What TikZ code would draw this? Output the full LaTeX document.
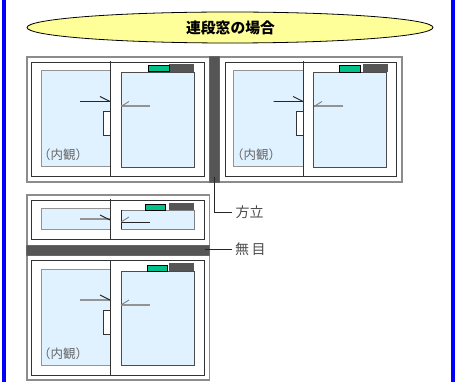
\documentclass[tikz,border=0pt]{standalone}
\usepackage{fontspec}
\usetikzlibrary{shapes.geometric}
\newfontfamily\cjk{Noto Sans CJK JP}
\definecolor{edgeblue}{HTML}{0000FF}
\definecolor{bannerfill}{HTML}{FFFF99}
\definecolor{glassfill}{HTML}{E0F2FF}
\definecolor{latchgreen}{HTML}{00C08C}
\definecolor{bardark}{HTML}{555555}
\begin{document}
\begin{tikzpicture}[x=1pt, y=-1pt]
		\tikzset{outerfr/.style={draw=gray!90, line width=1.2pt}};
		\tikzset{innerfr/.style={draw=black!80, line width=0.9pt}};
		\tikzset{glass/.style={draw=gray!85, fill=glassfill, line width=1pt}};
		\tikzset{glassdk/.style={draw=black!70, fill=glassfill, line width=0.9pt}};
		\tikzset{bar/.style={draw=gray!80!black, fill=bardark, line width=0.6pt}};
		\tikzset{latch/.style={draw=black, fill=latchgreen, line width=0.7pt}};
		\tikzset{grip/.style={draw=black!80, fill=white, line width=0.7pt}};
		\tikzset{stile/.style={draw=black!80, line width=0.9pt}};
		\tikzset{blackln/.style={draw=black!85, line width=0.9pt}};
		\tikzset{grayln/.style={draw=gray!85, line width=2pt}};
		\tikzset{lbl/.style={font=\cjk, text=black!70, inner sep=0pt}};
		\tikzset{inlbl/.style={lbl, font=\cjk\fontsize{12.5}{14}\selectfont, text=black!60}};
		\tikzset{partlbl/.style={lbl, font=\cjk\fontsize{14}{16}\selectfont}};

		\useasboundingbox (0, 0) rectangle (461, 382);
		\fill[white] (0, 0) rectangle (461, 382);
		\fill[edgeblue] (2, 0) rectangle (6, 382);
		\fill[edgeblue] (451, 0) rectangle (455, 382);

		% banner
		\node[ellipse, draw=black, fill=bannerfill, line width=0.8pt, minimum width=406pt, minimum height=31pt, inner sep=0pt] (banner) at (230, 27.5) {};
		\node[lbl, text=black, font=\cjk\bfseries\fontsize{14.8}{16}\selectfont] (title) at (230.5, 28) {連段窓の場合};

		% side by side
		\draw[outerfr] (27, 57) rectangle (402, 182);
		\draw[innerfr] (31.5, 62) rectangle (204, 176.5);
		\draw[innerfr] (225, 62) rectangle (396.5, 176.5);
		\draw[bar] (209, 56) rectangle (219, 182);

		\draw[glass] (41, 71) rectangle (110.5, 167);
		\draw[glassdk] (121, 72) rectangle (194, 167);
		\draw[bar, draw=none] (169, 64.5) rectangle (194, 72);
		\draw[latch] (148.5, 65) rectangle (169, 71.5);
		\draw[grip] (103, 111) rectangle (110.5, 135);
		\draw[stile] (110.5, 61) -- (110.5, 176.5);
		\draw[blackln] (80, 101.5) -- (110, 101.5) (100, 96.5) -- (110, 101.5);
		\draw[grayln] (150, 106.5) -- (121, 106.5);
		\draw[blackln, gray] (129, 101.5) -- (121, 106.5);
		\node[inlbl] (room1) at (63, 155) {（内観）};

		\draw[glass] (233.5, 71) rectangle (303.5, 167);
		\draw[glassdk] (313.5, 72) rectangle (386.5, 167);
		\draw[bar, draw=none] (363, 64) rectangle (388, 72);
		\draw[latch] (339, 65) rectangle (360, 72);
		\draw[grip] (296.5, 111) rectangle (303.5, 135);
		\draw[stile] (303.5, 61) -- (303.5, 176.5);
		\draw[blackln] (273.5, 101.5) -- (303, 101.5) (293, 96.5) -- (303, 101.5);
		\draw[grayln] (343, 106.5) -- (314, 106.5);
		\draw[blackln, gray] (322, 101.5) -- (314, 106.5);
		\node[inlbl] (room2) at (256, 155) {（内観）};

		% stacked
		\draw[outerfr] (27, 195) rectangle (209.5, 380);
		\draw[innerfr] (31.5, 200.5) rectangle (204, 239.5);
		\draw[innerfr] (31.5, 260) rectangle (204, 375.5);
		\draw[bar] (26, 245) rectangle (209, 255);

		\draw[glass] (41, 209) rectangle (110.5, 230);
		\draw[glassdk, draw=gray] (121, 210.5) rectangle (194, 229);
		\draw[blackln] (121, 210.5) -- (121, 229);
		\draw[bar, draw=none] (169, 203.5) rectangle (194, 210.5);
		\draw[latch] (145, 204.5) rectangle (165.5, 210.5);
		\draw[stile] (110.5, 199) -- (110.5, 239.5);
		\draw[grayln] (80, 219.5) -- (110, 219.5);
		\draw[blackln] (100, 215) -- (110, 220);
		\draw[blackln] (150, 222) -- (121, 222);
		\draw[blackln, gray] (129, 217) -- (121, 222);

		\draw[glass] (41, 270) rectangle (110.5, 365.5);
		\draw[glassdk] (121, 271) rectangle (194, 365);
		\draw[bar, draw=none] (169, 263) rectangle (194, 271);
		\draw[latch] (147, 265) rectangle (167.5, 271);
		\draw[grip] (103, 310) rectangle (110.5, 334);
		\draw[stile] (110.5, 260) -- (110.5, 375.5);
		\draw[grayln] (80, 300) -- (110, 300);
		\draw[blackln] (100, 295) -- (110, 300);
		\draw[grayln] (150, 305) -- (121, 305);
		\draw[blackln, gray] (129, 300) -- (121, 305);
		\node[inlbl] (room3) at (63, 354) {（内観）};

		% leaders
		\node[partlbl, anchor=west] (hou) at (235.5, 212.5) {方立};
		\node[partlbl, anchor=west] (mu) at (235, 249.5) {無\,目};
		\coordinate (houend) at (214, 177);
		\coordinate (muend) at (205, 249.5);
		\draw[blackln] (houend) |- ([xshift=-3.5pt]hou.west);
		\draw[blackln] (muend) -- ([xshift=-3pt]mu.west);
	\end{tikzpicture}
\end{document}
